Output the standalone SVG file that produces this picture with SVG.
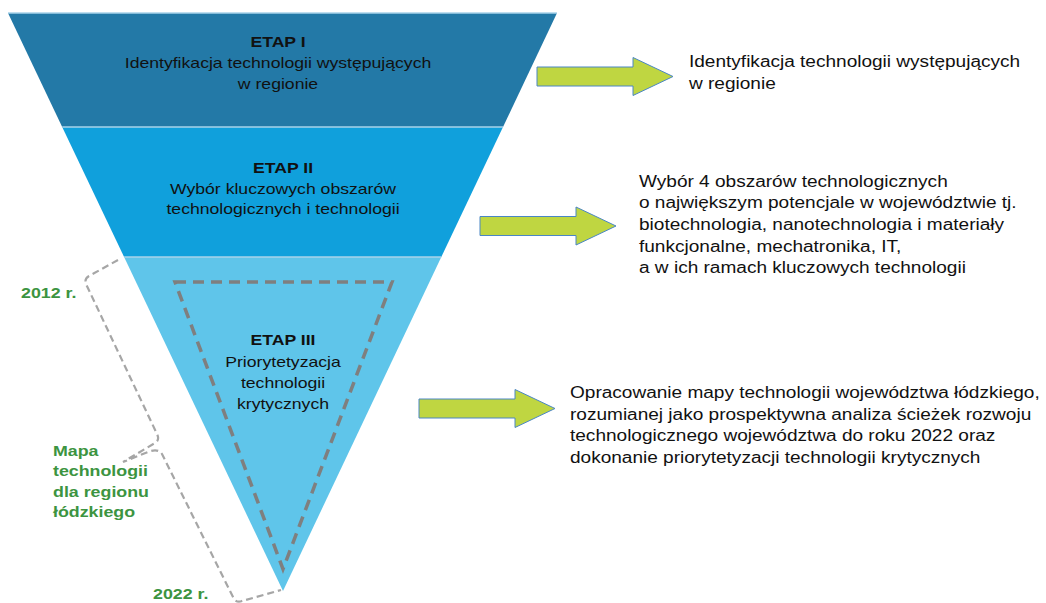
<svg xmlns="http://www.w3.org/2000/svg" xmlns:xlink="http://www.w3.org/1999/xlink" width="1046" height="603" viewBox="0 0 1046 603">
<style>
.t{font-family:"Liberation Sans",Arial,sans-serif;fill:#111;}
.fn{font-size:15px;}
.rt{font-size:16px;}
.b{font-weight:bold;}
.g{font-family:"Liberation Sans",Arial,sans-serif;font-size:15.5px;font-weight:bold;fill:#3c9441;}
.sep{stroke:#a9d3ea;stroke-width:1.6;fill:none;}
.arr{fill:#bfd641;stroke:#4a86c5;stroke-width:1;}
.dash{fill:none;stroke:#7f7f7f;stroke-width:3.5;stroke-dasharray:11 7;}
.brace{fill:none;stroke:#a6a6a6;stroke-width:2.2;stroke-dasharray:7 4;}
</style>
<defs>
<path id="arrow" d="M0,-9.5 L96,-9.5 L96,-19 L136,0 L96,19 L96,9.5 L0,9.5 Z"/>
</defs>
<rect width="1046" height="603" fill="#fff"/>

<g id="etap1">
<polygon points="8,13 557,13 503,127 62.2,127" fill="#2379a7"/>
<line class="sep" x1="8" y1="13" x2="557" y2="13"/>
<text class="t fn" text-anchor="middle" transform="translate(278,0) scale(1.175,1)"><tspan class="b" x="0" y="47">ETAP I</tspan><tspan x="0" y="68">Identyfikacja technologii występujących</tspan><tspan x="0" y="89">w regionie</tspan></text>
</g>

<g id="etap2">
<polygon points="62.2,127 503,127 441.3,257 124.1,257" fill="#10a0dc"/>
<line class="sep" x1="62.2" y1="127" x2="503" y2="127"/>
<text class="t fn" text-anchor="middle" transform="translate(283,0) scale(1.175,1)"><tspan class="b" x="0" y="173">ETAP II</tspan><tspan x="0" y="194">Wybór kluczowych obszarów</tspan><tspan x="0" y="214.5">technologicznych i technologii</tspan></text>
</g>

<g id="etap3">
<polygon points="124.1,257 441.3,257 283,591" fill="#5fc5ea"/>
<line class="sep" x1="124.1" y1="257" x2="441.3" y2="257"/>
<polygon class="dash" points="175,282 392,282 283,569"/>
<text class="t fn" text-anchor="middle" transform="translate(283,0) scale(1.175,1)"><tspan class="b" x="0" y="345">ETAP III</tspan><tspan x="0" y="367">Priorytetyzacja</tspan><tspan x="0" y="388">technologii</tspan><tspan x="0" y="409">krytycznych</tspan></text>
</g>

<g id="connectors">
<use xlink:href="#arrow" class="arr" transform="translate(537,76.5)"/>
<use xlink:href="#arrow" class="arr" transform="translate(480,226)"/>
<use xlink:href="#arrow" class="arr" transform="translate(419,408.5)"/>
<path class="brace" d="M118,260 L89,276 Q84,279 86,284 L157,434 Q160,440 155,443 L123,462 L148,452 Q158,448 162,454 L234,599 Q237,603 242,601 L281,590"/>
</g>

<g id="desc1">
<text class="t rt" transform="translate(689,0) scale(1.19,1)"><tspan x="0" y="67">Identyfikacja technologii występujących</tspan><tspan x="0" y="89">w regionie</tspan></text>
</g>

<g id="desc2">
<text class="t rt" transform="translate(639,0) scale(1.19,1)"><tspan x="0" y="187">Wybór 4 obszarów technologicznych</tspan><tspan x="0" y="208.5">o największym potencjale w województwie tj.</tspan><tspan x="0" y="230">biotechnologia, nanotechnologia i materiały</tspan><tspan x="0" y="252">funkcjonalne, mechatronika, IT,</tspan><tspan x="0" y="273.5">a w ich ramach kluczowych technologii</tspan></text>
</g>

<g id="desc3">
<text class="t rt" transform="translate(570,0) scale(1.19,1)"><tspan x="0" y="398">Opracowanie mapy technologii województwa łódzkiego,</tspan><tspan x="0" y="420">rozumianej jako prospektywna analiza ścieżek rozwoju</tspan><tspan x="0" y="441.5">technologicznego województwa do roku 2022 oraz</tspan><tspan x="0" y="463">dokonanie priorytetyzacji technologii krytycznych</tspan></text>
</g>

<g id="labels">
<text class="g" transform="translate(21,298) scale(1.15,1)">2012 r.</text>
<text class="g" transform="translate(53,0) scale(1.15,1)"><tspan x="0" y="456">Mapa</tspan><tspan x="0" y="476.5">technologii</tspan><tspan x="0" y="497">dla regionu</tspan><tspan x="0" y="517.5">łódzkiego</tspan></text>
<text class="g" transform="translate(153,599) scale(1.15,1)">2022 r.</text>
</g>
</svg>
